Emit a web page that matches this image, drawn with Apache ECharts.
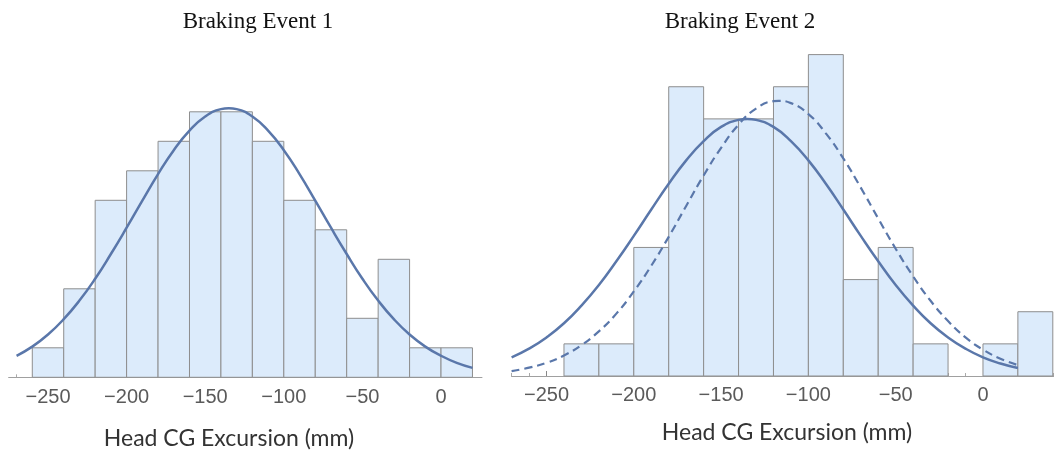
<!DOCTYPE html>
<html>
<head>
<meta charset="utf-8">
<script src="https://cdn.jsdelivr.net/npm/echarts@6/dist/echarts.min.js"></script>
<style>
html,body{margin:0;padding:0;background:#fff;}
#chart{width:1054px;height:452px;}
</style>
</head>
<body>
<div id="chart"></div>
<script>
// ---- data ----
const titles = ['Braking Event 1', 'Braking Event 2'];
const xAxisTitle = 'Head CG Excursion (mm)';
const binWidth = 20;
const leftBinStarts = [-260, -240, -220, -200, -180, -160, -140, -120, -100, -80, -60, -40, -20, 0];
const leftCounts    = [1, 3, 6, 7, 8, 9, 9, 8, 6, 5, 2, 4, 1, 1];
const rightBinStarts = [-240, -220, -200, -180, -160, -140, -120, -100, -80, -60, -40, -20, 0, 20];
const rightCounts    = [1, 1, 4, 9, 8, 8, 9, 10, 3, 4, 1, 0, 1, 2];
const leftFitX = [-270, -260, -250, -240, -230, -220, -210, -200, -190, -180, -170, -160, -150, -140, -135, -130,
                  -120, -110, -100, -90, -80, -70, -60, -50, -40, -30, -20, -10, 0, 10, 20];
const leftFit  = [0.73, 1.04, 1.45, 1.97, 2.60, 3.34, 4.18, 5.07, 5.99, 6.89, 7.70, 8.36, 8.84, 9.09, 9.12, 9.09,
                  8.84, 8.36, 7.70, 6.89, 5.99, 5.07, 4.18, 3.34, 2.60, 1.97, 1.45, 1.04, 0.73, 0.49, 0.32];
const rightFitX = [-270, -260, -250, -240, -230, -220, -210, -200, -190, -180, -170, -160, -150, -140, -135, -130,
                   -120, -110, -100, -90, -80, -70, -60, -50, -40, -30, -20, -10, 0, 10, 20];
const rightFit  = [0.58, 0.85, 1.20, 1.64, 2.19, 2.83, 3.57, 4.36, 5.18, 5.98, 6.71, 7.31, 7.75, 7.97, 8.00, 7.97,
                   7.75, 7.31, 6.71, 5.98, 5.18, 4.36, 3.57, 2.83, 2.19, 1.64, 1.20, 0.85, 0.58, 0.39, 0.25];
const dashedFitX = [-270, -260, -250, -240, -230, -220, -210, -200, -190, -180, -170, -160, -150, -140, -130,
                    -120, -117, -110, -100, -90, -80, -70, -60, -50, -40, -30, -20, -10, 0, 10, 20];
const dashedFit  = [0.15, 0.26, 0.41, 0.64, 0.96, 1.39, 1.94, 2.63, 3.43, 4.33, 5.29, 6.24, 7.10, 7.82, 8.32,
                    8.55, 8.56, 8.49, 8.15, 7.55, 6.77, 5.86, 4.90, 3.96, 3.10, 2.34, 1.71, 1.20, 0.82, 0.54, 0.34];
const majorTicks = [-250, -200, -150, -100, -50, 0];
const minorTicks = [-270, -260, -240, -230, -220, -210, -190, -180, -170, -160, -140, -130, -120, -110,
                    -90, -80, -70, -60, -40, -30, -20, -10, 10, 20, 30, 40];

// ---- styles ----
const barFill = '#dcebfb';
const barStroke = '#8e8e8e';
const curveColor = '#5a77aa';
const axisGray = '#a0a0a0';

function bins(starts, counts) {
  return starts.map((s, i) => [s, s + binWidth, counts[i]]);
}
function pts(xs, ys) { return xs.map((x, i) => [x, ys[i]]); }

function renderBar(params, api) {
  const c = api.value(2);
  if (!c) return null;
  const p0 = api.coord([api.value(0), c]);
  const p1 = api.coord([api.value(1), 0]);
  return {
    type: 'rect',
    shape: { x: p0[0], y: p0[1], width: p1[0] - p0[0], height: p1[1] - p0[1] },
    style: { fill: barFill, stroke: barStroke, lineWidth: 1 }
  };
}
const fmt = v => (v < 0 ? '\u2212' + Math.abs(v) : String(v));

function majorAxis(gi, min, max, margin) {
  return {
    type: 'value', gridIndex: gi, min: min, max: max, position: 'bottom',
    axisLine: { show: true, lineStyle: { color: axisGray, width: 1.2 } },
    axisTick: { show: true, inside: true, length: 5, customValues: majorTicks, lineStyle: { color: '#888' } },
    axisLabel: { show: true, customValues: majorTicks, formatter: fmt, margin: margin,
                 fontSize: 20, color: '#5a5a5a', fontFamily: 'Liberation Sans' },
    splitLine: { show: false }
  };
}
function minorAxis(gi, min, max) {
  return {
    type: 'value', gridIndex: gi, min: min, max: max, position: 'bottom',
    axisLine: { show: false },
    axisTick: { show: true, inside: true, length: 3, customValues: minorTicks, lineStyle: { color: '#aaa' } },
    axisLabel: { show: false },
    splitLine: { show: false }
  };
}
function yAxis(gi) {
  return { type: 'value', gridIndex: gi, min: 0, max: 10, show: false, splitLine: { show: false } };
}

const chart = echarts.init(document.getElementById('chart'), null, { renderer: 'canvas' });
chart.setOption({
  animation: false,
  backgroundColor: '#ffffff',
  grid: [
    { left: 8.7, top: 82.3, width: 473.2, height: 295 },
    { left: 511.6, top: 54.6, width: 541.9, height: 321.4 }
  ],
  xAxis: [
    majorAxis(0, -275, 26, 10),
    majorAxis(1, -270, 40.4, 9.5),
    minorAxis(0, -275, 26),
    minorAxis(1, -270, 40.4)
  ],
  yAxis: [yAxis(0), yAxis(1)],
  graphic: [
    { type: 'text', x: 258, y: 22, style: { text: titles[0], font: '23px "Liberation Serif"', fill: '#111', align: 'center', verticalAlign: 'middle' } },
    { type: 'text', x: 740, y: 22, style: { text: titles[1], font: '23px "Liberation Serif"', fill: '#111', align: 'center', verticalAlign: 'middle' } },
    { type: 'text', x: 229, y: 439, style: { text: xAxisTitle, font: '23px Lato', fill: '#333', align: 'center', verticalAlign: 'middle' } },
    { type: 'text', x: 787, y: 433, style: { text: xAxisTitle, font: '23px Lato', fill: '#333', align: 'center', verticalAlign: 'middle' } }
  ],
  series: [
    { type: 'custom', xAxisIndex: 0, yAxisIndex: 0, renderItem: renderBar,
      encode: { x: [0, 1], y: 2 }, data: bins(leftBinStarts, leftCounts), z: 1 },
    { type: 'custom', xAxisIndex: 1, yAxisIndex: 1, renderItem: renderBar,
      encode: { x: [0, 1], y: 2 }, data: bins(rightBinStarts, rightCounts), z: 1 },
    { type: 'line', xAxisIndex: 0, yAxisIndex: 0, data: pts(leftFitX, leftFit), smooth: true,
      showSymbol: false, lineStyle: { color: curveColor, width: 2.5 }, z: 3 },
    { type: 'line', xAxisIndex: 1, yAxisIndex: 1, data: pts(rightFitX, rightFit), smooth: true,
      showSymbol: false, lineStyle: { color: curveColor, width: 2.5 }, z: 3 },
    { type: 'line', xAxisIndex: 1, yAxisIndex: 1, data: pts(dashedFitX, dashedFit), smooth: true,
      showSymbol: false, lineStyle: { color: curveColor, width: 2.2, type: [8, 5] }, z: 3 }
  ]
});
</script>
</body>
</html>
